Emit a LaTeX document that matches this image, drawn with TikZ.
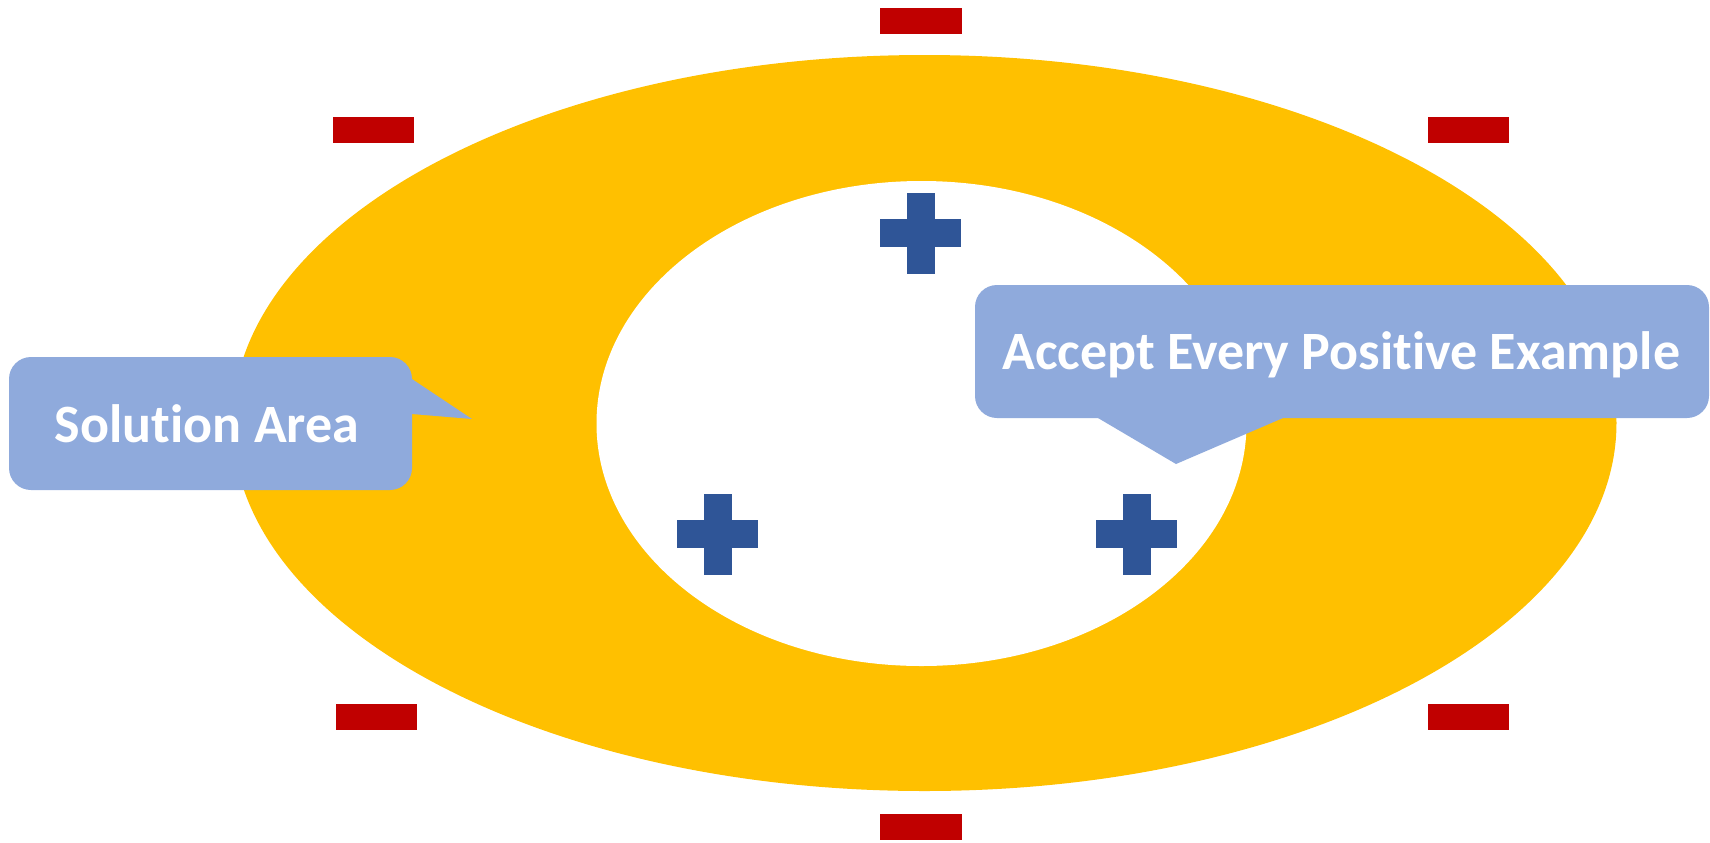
\documentclass[tikz,border=0pt]{standalone}
\usepackage{fontspec}
\setmainfont[Ligatures={NoCommon,NoRequired,NoContextual}]{Carlito}
\definecolor{ringyellow}{HTML}{FFC000}
\definecolor{minusred}{HTML}{C00000}
\definecolor{plusblue}{HTML}{2F5597}
\definecolor{calloutblue}{HTML}{8FAADC}
\tikzset{
  minusbar/.style={fill=minusred},
  callout/.style={fill=calloutblue},
  labeltext/.style={font=\fontsize{27}{32}\selectfont\bfseries, text=white, inner sep=0pt, anchor=base},
  pluscross/.pic={
    \fill[plusblue] (-40.5,-14) rectangle (40.5,14);
    \fill[plusblue] (-14,-40.5) rectangle (14,40.5);
  }
}
\begin{document}
\begin{tikzpicture}[x=0.5pt,y=-0.5pt]
\useasboundingbox (0,0) rectangle (1710,842);
% ring
\fill[ringyellow] (924.5,423) ellipse [x radius=692, y radius=368];
\fill[white] (921.5,423.5) ellipse [x radius=325, y radius=242.5];
% positive examples
\pic (p1) at (920.5,233) {pluscross};
\pic (p2) at (717.5,534) {pluscross};
\pic (p3) at (1136.5,534) {pluscross};
% negative examples
\fill[minusbar] (880,8) rectangle (962,34);
\fill[minusbar] (333,117) rectangle (414,143);
\fill[minusbar] (1428,117) rectangle (1509,143);
\fill[minusbar] (336,704) rectangle (417,730);
\fill[minusbar] (1428,704) rectangle (1509,730);
\fill[minusbar] (880,814) rectangle (962,840);
% callout: Solution Area
\fill[callout, rounded corners=11pt] (9,357) rectangle (412,490);
\fill[callout] (400,379) -- (412,379) -- (472,419) -- (412,414) -- (400,414) -- cycle;
\node[labeltext] (sol) at (207,442) {Solution Area};
% callout: Accept Every Positive Example
\fill[callout, rounded corners=11pt] (975,285) rectangle (1709,418);
\fill[callout] (1098,410) -- (1098,418) -- (1176,464) -- (1283,418) -- (1283,410) -- cycle;
\node[labeltext] (acc) at (1341.5,369) {Accept Every Positive Example};
\end{tikzpicture}
\end{document}
